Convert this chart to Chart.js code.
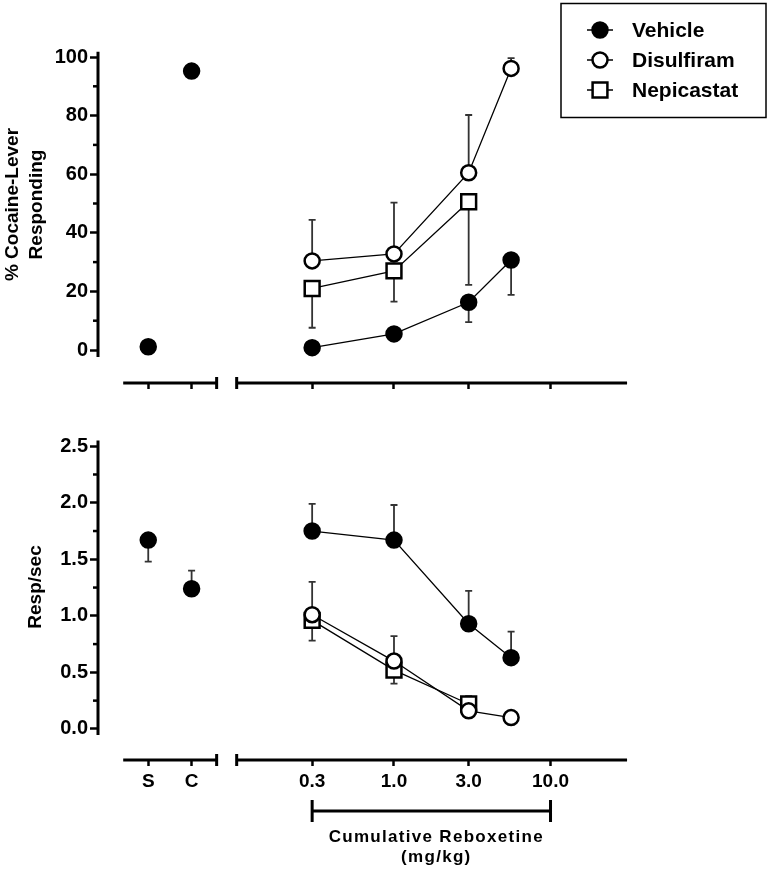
<!DOCTYPE html>
<html>
<head>
<meta charset="utf-8">
<title>Reboxetine substitution</title>
<script src="https://cdn.jsdelivr.net/npm/chart.js@4.4.1/dist/chart.umd.min.js"></script>
<style>
    body { margin: 0; background: #fff; }
    canvas { position: absolute; left: 0; }
</style>
</head>
<body>
<canvas id="pctChart" width="771" height="400" style="top:0"></canvas>
<canvas id="rateChart" width="771" height="469" style="top:400px"></canvas>
<script>
// Cumulative reboxetine doses (mg/kg)
const doses = [0.3, 1.0, 3.0, 5.6];
const ctrlLabels = ['S', 'C'];
const xTickDoses = [0.3, 1.0, 3.0, 10.0];
const xTickLabels = ['S', 'C', '0.3', '1.0', '3.0', '10.0'];

// % cocaine-lever responding
const pctVehicleCtrl = [1.1, 95.2];
const pctVehicle = [0.8, 5.5, 16.3, 30.7];
const pctVehicleSem = [null, null, 6.8, 11.9];
const pctDisulfiram = [30.4, 32.8, 60.5, 96.1];
const pctDisulfiramSem = [14.0, 17.5, 19.7, 3.5];
const pctNepicastat = [21.0, 27.0, 50.6];
const pctNepicastatSem = [13.4, 10.5, 28.4];
const pctTicks = [0, 20, 40, 60, 80, 100];
const pctMinorTicks = [10, 30, 50, 70, 90];

// Response rate (resp/sec)
const rateVehicleCtrl = [1.67, 1.24];
const rateVehicleCtrlSem = [0.19, 0.16];
const rateVehicle = [1.75, 1.67, 0.93, 0.63];
const rateVehicleSem = [0.24, 0.31, 0.29, 0.23];
const rateDisulfiram = [1.01, 0.60, 0.16, 0.10];
const rateDisulfiramSem = [0.29, 0.22, null, null];
const rateNepicastat = [0.96, 0.52, 0.22];
const rateNepicastatSem = [0.18, 0.12, 0.07];
const rateTicks = [0, 0.5, 1.0, 1.5, 2.0, 2.5];
const rateMinorTicks = [0.25, 0.75, 1.25, 1.75, 2.25];

// x axis is log10(dose); S and C sit on the left of the axis break
const ctrlPos = [-1.57, -1.293];
const xMin = -1.891, xMax = 1.955;
const leftSegment = [-1.73, -1.133];
const rightSegment = [-1.005, 1.489];

Chart.defaults.font.family = '"Liberation Sans", Arial, sans-serif';
Chart.defaults.color = '#000';

const ctrlPoints = vals => vals.map((v, i) => ({ x: ctrlPos[i], y: v }));
const dosePoints = vals => vals.map((v, i) => ({ x: Math.log10(doses[i]), y: v }));

function series(label, data, style, sem, dir) {
    const filled = style === 'filled';
    return {
        label,
        data,
        sem,
        dir,
        borderColor: '#000',
        borderWidth: 1.3,
        pointStyle: style === 'square' ? 'rect' : 'circle',
        pointRadius: style === 'square' ? 10.5 : 7.5,
        pointBorderWidth: 2.5,
        pointBorderColor: '#000',
        pointBackgroundColor: filled ? '#000' : '#fff',
        tension: 0
    };
}

function drawMarker(ctx, style, x, y) {
    ctx.beginPath();
    if (style === 'square') ctx.rect(x - 7.4, y - 7.4, 14.8, 14.8);
    else ctx.arc(x, y, 7.5, 0, Math.PI * 2);
    ctx.fillStyle = style === 'filled' ? '#000' : '#fff';
    ctx.fill();
    ctx.lineWidth = 2.5;
    ctx.strokeStyle = '#000';
    ctx.stroke();
}

function prismAxes(cfg) {
    return {
        id: 'prismAxes',
        beforeDatasetsDraw(chart) {
            // one-sided SEM whiskers
            const { ctx, scales: { y } } = chart;
            ctx.save();
            ctx.strokeStyle = '#333';
            ctx.lineWidth = 1.8;
            chart.data.datasets.forEach((ds, i) => {
                if (!ds.sem) return;
                const meta = chart.getDatasetMeta(i);
                ds.sem.forEach((s, j) => {
                    if (s == null) return;
                    const pt = meta.data[j];
                    const val = ds.data[j].y;
                    const end = y.getPixelForValue(ds.dir[j] === 'up' ? val + s : val - s);
                    ctx.beginPath();
                    ctx.moveTo(pt.x, pt.y);
                    ctx.lineTo(pt.x, end);
                    ctx.moveTo(pt.x - 3.5, end);
                    ctx.lineTo(pt.x + 3.5, end);
                    ctx.stroke();
                });
            });
            ctx.restore();
        },
        afterDraw(chart) {
            const { ctx, chartArea, scales: { x, y } } = chart;
            ctx.save();
            ctx.strokeStyle = '#000';
            ctx.lineCap = 'butt';

            // y axis line and minor ticks
            const ax = chartArea.left;
            ctx.lineWidth = 3;
            ctx.beginPath();
            ctx.moveTo(ax, y.getPixelForValue(cfg.ySpan[0]));
            ctx.lineTo(ax, y.getPixelForValue(cfg.ySpan[1]));
            ctx.stroke();
            ctx.lineWidth = 2.5;
            cfg.minor.forEach(v => {
                const py = y.getPixelForValue(v);
                ctx.beginPath();
                ctx.moveTo(ax - 5, py);
                ctx.lineTo(ax, py);
                ctx.stroke();
            });

            // broken x axis
            const by = chartArea.bottom;
            const l0 = x.getPixelForValue(leftSegment[0]), l1 = x.getPixelForValue(leftSegment[1]);
            const r0 = x.getPixelForValue(rightSegment[0]), r1 = x.getPixelForValue(rightSegment[1]);
            ctx.lineWidth = 3;
            ctx.beginPath();
            ctx.moveTo(l0, by); ctx.lineTo(l1, by);
            ctx.moveTo(l1, by - 6); ctx.lineTo(l1, by + 6);
            ctx.moveTo(r0, by - 6); ctx.lineTo(r0, by + 6);
            ctx.moveTo(r0, by); ctx.lineTo(r1, by);
            ctx.stroke();

            if (cfg.bracket) {
                const b0 = x.getPixelForValue(Math.log10(0.3));
                const b1 = x.getPixelForValue(Math.log10(10));
                const bY = by + 51;
                ctx.beginPath();
                ctx.moveTo(b0, bY); ctx.lineTo(b1, bY);
                ctx.moveTo(b0, bY - 11); ctx.lineTo(b0, bY + 11);
                ctx.moveTo(b1, bY - 11); ctx.lineTo(b1, bY + 11);
                ctx.stroke();
                ctx.fillStyle = '#000';
                ctx.font = 'bold 17px "Liberation Sans", Arial, sans-serif';
                ctx.letterSpacing = '1.3px';
                ctx.textAlign = 'center';
                ctx.textBaseline = 'middle';
                const cx = (b0 + b1) / 2 + 5;
                ctx.fillText('Cumulative Reboxetine', cx, by + 77);
                ctx.fillText('(mg/kg)', cx, by + 97);
            }

            if (cfg.legend) {
                ctx.letterSpacing = '0px';
                ctx.lineWidth = 1.5;
                ctx.strokeRect(561, 3.5, 205, 114);
                const entries = [['Vehicle', 'filled'], ['Disulfiram', 'open'], ['Nepicastat', 'square']];
                ctx.font = 'bold 21px "Liberation Sans", Arial, sans-serif';
                ctx.textAlign = 'left';
                ctx.textBaseline = 'middle';
                entries.forEach(([name, style], i) => {
                    const ly = 30 + i * 30;
                    ctx.lineWidth = 1.5;
                    ctx.strokeStyle = '#000';
                    ctx.beginPath();
                    ctx.moveTo(587, ly); ctx.lineTo(613, ly);
                    ctx.stroke();
                    drawMarker(ctx, style, 600, ly);
                    ctx.fillStyle = '#000';
                    ctx.fillText(name, 632, ly + 1);
                });
            }
            ctx.restore();
        }
    };
}

function xScale(axisHeight, showLabels) {
    return {
        type: 'linear',
        min: xMin,
        max: xMax,
        afterBuildTicks: s => { s.ticks = [...ctrlPos, ...xTickDoses.map(Math.log10)].map(v => ({ value: v })); },
        afterFit: s => { s.height = axisHeight; },
        border: { display: false },
        grid: { drawOnChartArea: false, drawTicks: true, tickLength: 6, tickWidth: 2.5, tickColor: '#000' },
        ticks: {
            display: showLabels,
            autoSkip: false,
            maxRotation: 0,
            padding: 4,
            color: '#000',
            font: { size: 19, weight: 'bold' },
            callback: (v, i) => xTickLabels[i]
        }
    };
}

function yScale(min, max, ticks, fmt, title, titlePad) {
    return {
        min,
        max,
        afterBuildTicks: s => { s.ticks = ticks.map(v => ({ value: v })); },
        afterFit: s => { s.width = 98; },
        border: { display: false },
        grid: { drawOnChartArea: false, drawTicks: true, tickLength: 8, tickWidth: 2.5, tickColor: '#000' },
        ticks: { padding: 2, color: '#000', font: { size: 20, weight: 'bold' }, callback: fmt },
        title: {
            display: true,
            text: title,
            color: '#000',
            font: { size: 19, weight: 'bold', lineHeight: 1.3 },
            padding: { top: titlePad, bottom: 0 }
        }
    };
}

const baseOptions = {
    responsive: false,
    animation: false,
    plugins: { legend: { display: false }, tooltip: { enabled: false } }
};

new Chart(document.getElementById('pctChart'), {
    type: 'line',
    data: {
        datasets: [
            Object.assign(series('Vehicle', ctrlPoints(pctVehicleCtrl), 'filled'), { showLine: false }),
            series('Vehicle', dosePoints(pctVehicle), 'filled', pctVehicleSem, ['down', 'down', 'down', 'down']),
            series('Disulfiram', dosePoints(pctDisulfiram), 'open', pctDisulfiramSem, ['up', 'up', 'up', 'up']),
            series('Nepicastat', dosePoints(pctNepicastat), 'square', pctNepicastatSem, ['down', 'down', 'down'])
        ]
    },
    options: {
        ...baseOptions,
        layout: { padding: { left: 0, right: 71, top: 26, bottom: 0 } },
        scales: {
            x: xScale(17, false),
            y: yScale(-11.26, 110.58, pctTicks, v => String(v), ['% Cocaine-Lever', 'Responding'], 0)
        }
    },
    plugins: [prismAxes({ ySpan: [-2.4, 101.8], minor: pctMinorTicks, legend: true })]
});

new Chart(document.getElementById('rateChart'), {
    type: 'line',
    data: {
        datasets: [
            Object.assign(series('Vehicle', ctrlPoints(rateVehicleCtrl), 'filled', rateVehicleCtrlSem, ['down', 'up']), { showLine: false }),
            series('Vehicle', dosePoints(rateVehicle), 'filled', rateVehicleSem, ['up', 'up', 'up', 'up']),
            series('Disulfiram', dosePoints(rateDisulfiram), 'open', rateDisulfiramSem, ['up', 'up', 'up', 'up']),
            series('Nepicastat', dosePoints(rateNepicastat), 'square', rateNepicastatSem, ['down', 'down', 'up'])
        ]
    },
    options: {
        ...baseOptions,
        layout: { padding: { left: 0, right: 71, top: 2, bottom: 0 } },
        scales: {
            x: xScale(109, true),
            y: yScale(-0.275, 2.785, rateTicks, v => v.toFixed(1), 'Resp/sec', 23)
        }
    },
    plugins: [prismAxes({ ySpan: [-0.053, 2.55], minor: rateMinorTicks, bracket: true })]
});
</script>
</body>
</html>
